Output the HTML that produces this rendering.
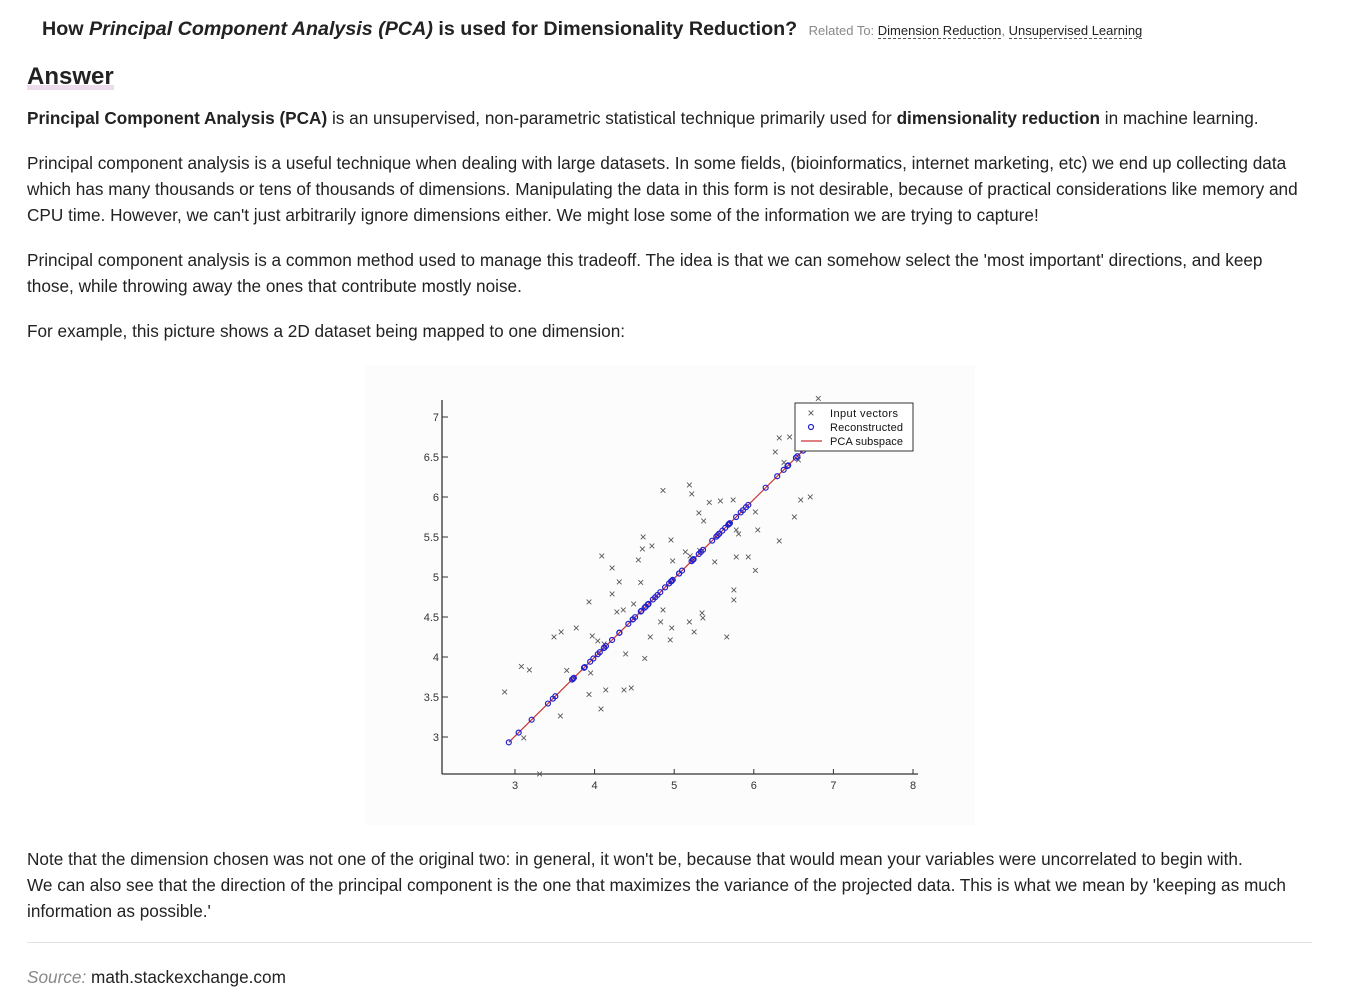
<!DOCTYPE html>
<html><head><meta charset="utf-8">
<style>
body{margin:0;width:1348px;height:1000px;background:#fff;font-family:"Liberation Sans",Arial,sans-serif;color:#222;position:relative;overflow:hidden}
.abs{position:absolute}
p{margin:0;font-size:17.2px;line-height:26px;color:#222}
.title{left:42px;top:15px;font-size:19.7px;font-weight:bold;line-height:28px;white-space:nowrap}
.rel{font-size:13px;font-weight:normal;color:#888;margin-left:6px}
.rel a{color:#222;text-decoration:none;border-bottom:1px dashed #555}
h2{margin:0;font-size:24px;font-weight:bold;line-height:30px}
</style></head><body>
<div class="abs title">How <i>Principal Component Analysis (PCA)</i> is used for Dimensionality Reduction? <span class="rel">Related To: <a>Dimension Reduction</a>, <a>Unsupervised Learning</a></span></div>
<h2 class="abs" style="left:27px;top:62px"><span style="box-shadow:inset 0 -5px 0 #ecdcec">Answer</span></h2>
<p class="abs" style="left:27px;top:105px"><b>Principal Component Analysis (PCA)</b> is an unsupervised, non-parametric statistical technique primarily used for <b>dimensionality reduction</b> in machine learning.</p>
<p class="abs" style="left:27px;top:150px;white-space:nowrap">Principal component analysis is a useful technique when dealing with large datasets. In some fields, (bioinformatics, internet marketing, etc) we end up collecting data<br>which has many thousands or tens of thousands of dimensions. Manipulating the data in this form is not desirable, because of practical considerations like memory and<br>CPU time. However, we can't just arbitrarily ignore dimensions either. We might lose some of the information we are trying to capture!</p>
<p class="abs" style="left:27px;top:247px;white-space:nowrap">Principal component analysis is a common method used to manage this tradeoff. The idea is that we can somehow select the 'most important' directions, and keep<br>those, while throwing away the ones that contribute mostly noise.</p>
<p class="abs" style="left:27px;top:318px">For example, this picture shows a 2D dataset being mapped to one dimension:</p>

<svg class="abs" style="left:365px;top:365px" width="610" height="460" viewBox="365 365 610 460" id="chart" font-family="Liberation Sans, Arial, sans-serif">
<rect x="365" y="365" width="610" height="460" fill="#fcfcfc"/>
<g id="axes"></g><g id="marks"></g>
<g>
<rect x="795" y="403" width="118" height="48" fill="#fff" stroke="#333" stroke-width="1"/>
<text x="811" y="417" font-size="12" text-anchor="middle" fill="#555">×</text>
<circle cx="811" cy="427" r="2.5" fill="none" stroke="#2222cc" stroke-width="1.2"/>
<line x1="801" y1="441" x2="822" y2="441" stroke="#cc3333" stroke-width="1.2"/>
<text x="830" y="417" font-size="11" fill="#111" textLength="68">Input vectors</text>
<text x="830" y="431" font-size="11" fill="#111" textLength="73">Reconstructed</text>
<text x="830" y="445" font-size="11" fill="#111" textLength="73">PCA subspace</text>
</g>
</svg>

<p class="abs" style="left:27px;top:846px;white-space:nowrap">Note that the dimension chosen was not one of the original two: in general, it won't be, because that would mean your variables were uncorrelated to begin with.<br>We can also see that the direction of the principal component is the one that maximizes the variance of the projected data. This is what we mean by 'keeping as much<br>information as possible.'</p>
<div class="abs" style="left:27px;top:942px;width:1285px;border-top:1px solid #e2e2e2"></div>
<p class="abs" style="left:27px;top:964px"><i style="color:#888">Source:</i> math.stackexchange.com</p>

<script>
const xs=[2.87,3.08,3.18,3.31,3.11,3.49,3.58,3.77,3.57,3.65,3.93,3.95,4.08,4.14,4.12,3.97,4.04,3.93,4.09,4.22,4.31,4.22,4.28,4.36,4.39,4.46,4.37,4.58,4.61,4.60,4.72,4.55,4.49,4.63,4.70,4.86,4.83,4.95,4.97,5.19,5.25,4.96,4.98,5.14,5.20,5.32,5.35,5.36,4.86,5.19,5.22,5.31,5.37,5.44,5.58,5.74,6.02,6.05,5.78,5.81,5.51,5.78,5.93,6.02,5.75,5.75,5.66,6.32,6.51,6.59,6.71,6.27,6.32,6.45,6.81,6.38,6.56];
const ys=[3.56,3.88,3.84,2.54,2.99,4.25,4.31,4.36,3.26,3.83,3.53,3.80,3.35,3.59,4.16,4.26,4.20,4.69,5.26,5.11,4.94,4.79,4.56,4.59,4.04,3.61,3.59,4.93,5.50,5.35,5.39,5.21,4.66,3.98,4.25,4.59,4.44,4.21,4.36,4.44,4.31,5.46,5.20,5.31,5.26,5.33,4.55,4.49,6.08,6.15,6.04,5.80,5.70,5.93,5.95,5.96,5.81,5.59,5.59,5.54,5.19,5.25,5.25,5.08,4.84,4.71,4.25,5.45,5.75,5.96,6.00,6.56,6.74,6.75,7.23,6.43,6.46];
const xTicks=[3,4,5,6,7,8];
const yTicks=[3,3.5,4,4.5,5,5.5,6,6.5,7];
const yTickLabels=["3","3.5","4","4.5","5","5.5","6","6.5","7"];
const sx=v=>515+(v-3)*79.6, sy=v=>417-(v-7)*80;
const NS="http://www.w3.org/2000/svg";
function mk(t,a,p){const e=document.createElementNS(NS,t);for(const k in a)e.setAttribute(k,a[k]);p.appendChild(e);return e;}
const ax=document.getElementById('axes'), mg=document.getElementById('marks');
const xl=mk('line',{x1:442,y1:774,x2:918,y2:774,stroke:'#333','stroke-width':1.3},ax);


const yl=mk('line',{x1:442,y1:400,x2:442,y2:774,stroke:'#333','stroke-width':1.3},ax);


xTicks.forEach(v=>{const x=sx(v);mk('line',{x1:x,y1:774,x2:x,y2:769,stroke:'#333'},ax);
const t=mk('text',{x:x,y:789,'font-size':11,'text-anchor':'middle',fill:'#333'},ax);t.textContent=v;

});
yTicks.forEach((v,i)=>{const y=sy(v);mk('line',{x1:442,y1:y,x2:448,y2:y,stroke:'#333'},ax);
const t=mk('text',{x:439,y:y+4,'font-size':11,'text-anchor':'end',fill:'#333'},ax);t.textContent=yTickLabels[i];

});
const n=xs.length;let mx=0,my=0;for(let i=0;i<n;i++){mx+=xs[i];my+=ys[i];}mx/=n;my/=n;
let a=0,b=0,c=0;for(let i=0;i<n;i++){const dx=xs[i]-mx,dy=ys[i]-my;a+=dx*dx;b+=dx*dy;c+=dy*dy;}
const th=0.5*Math.atan2(2*b,a-c);const ux=Math.cos(th),uy=Math.sin(th);
const proj=xs.map((x,i)=>(x-mx)*ux+(ys[i]-my)*uy);
const pmin=Math.min(...proj),pmax=Math.max(...proj);
const pl=mk('line',{x1:sx(mx+pmin*ux),y1:sy(my+pmin*uy),x2:sx(mx+pmax*ux),y2:sy(my+pmax*uy),stroke:'#cc3333','stroke-width':1.2},mg);


xs.forEach((x,i)=>{const t=mk('text',{x:sx(x),y:sy(ys[i])+4,'font-size':12,'text-anchor':'middle',fill:'#555'},mg);t.textContent='×';

});
proj.forEach(p=>{const c=mk('circle',{cx:sx(mx+p*ux),cy:sy(my+p*uy),r:2.5,fill:'none',stroke:'#2222cc','stroke-width':1.2},mg);

});
</script>
</body></html>
